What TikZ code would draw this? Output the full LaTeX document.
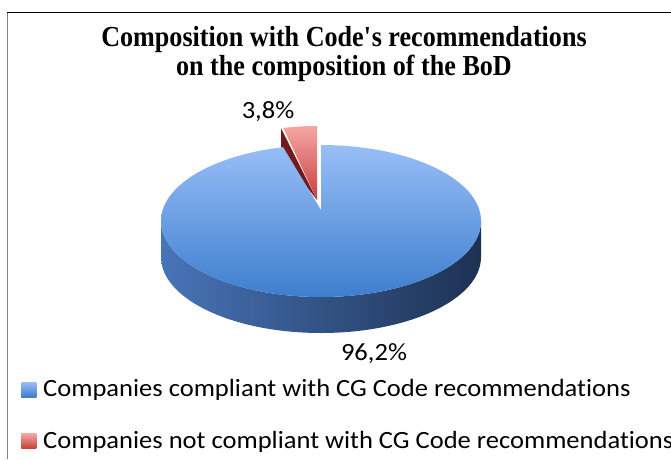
\documentclass[tikz,border=0pt]{standalone}
\usepackage{fontspec}
\setmainfont{Liberation Serif}
\newfontfamily\ttlfont[FakeStretch=0.9]{Liberation Serif}
\newfontfamily\lblfont[FakeStretch=1.07,Ligatures=NoCommon]{Carlito}
\usetikzlibrary{calc,positioning}

\definecolor{topblueA}{RGB}{152,190,247}
\definecolor{topblueB}{RGB}{62,126,206}
\definecolor{sideblueA}{RGB}{72,116,184}
\definecolor{sideblueM}{RGB}{44,80,134}
\definecolor{sideblueB}{RGB}{29,49,82}
\definecolor{topredA}{RGB}{246,166,164}
\definecolor{topredB}{RGB}{200,62,60}
\definecolor{sidered}{RGB}{110,28,26}

\begin{document}
\begin{tikzpicture}[x=1pt,y=1pt,
  ttl/.style={font=\ttlfont\bfseries\fontsize{29}{29}\selectfont, inner sep=0pt, anchor=base},
  lbl/.style={font=\lblfont\fontsize{24.8}{24.8}\selectfont, inner sep=0pt, anchor=base},
  key/.style={minimum size=15pt, inner sep=0pt}]

\useasboundingbox (0,0) rectangle (671,459);

% frame
\draw[gray, line width=1.7pt] (7.5,446) -- (7.5,0);
\draw[black, line width=1pt] (7,446) -- (671,446);

\node[ttl] (title1) at (344,413) {Composition with Code\textquotesingle s recommendations};
\node[ttl] (title2) at ([yshift=-29pt]title1.base) {on the composition of the BoD};

\coordinate (O) at (321,238);
\coordinate (V) at (321,249);
\coordinate (R) at (317,259);

% red slice, pulled out
\fill[sidered] (R) -- (281,330.8) -- (281,305) -- cycle;
\shade[top color=topredA, bottom color=topredB] (R) -- (317,333)
  arc[start angle=90, end angle=103, x radius=150, y radius=76] -- cycle;

% blue slice
\shade[left color=sideblueA, middle color=sideblueM, right color=sideblueB]
  ($(O)+(-160,0)$) arc[start angle=180, end angle=360, x radius=160, y radius=76]
  -- ++(0,-36) arc[start angle=360, end angle=180, x radius=160, y radius=76] -- cycle;
\shade[top color=topblueA, bottom color=topblueB] (V) -- (321,314)
  arc[start angle=90, end angle=-256.3, x radius=160, y radius=76] -- cycle;

\node[lbl] (pctRed) at (268,341) {3,8\%};
\node[lbl] (pctBlue) at (374,99) {96,2\%};

% legend
\node[key, top color=topblueA, bottom color=topblueB] (keyBlue) at (28.9,69.5) {};
\node[lbl, anchor=base west] (txtBlue) at (43,63) {Companies compliant with CG Code recommendations};
\node[key, top color=topredA, bottom color=topredB] (keyRed) at (28.9,18) {};
\node[lbl, anchor=base west] (txtRed) at (43,11) {Companies not compliant with CG Code recommendations};

\end{tikzpicture}
\end{document}
